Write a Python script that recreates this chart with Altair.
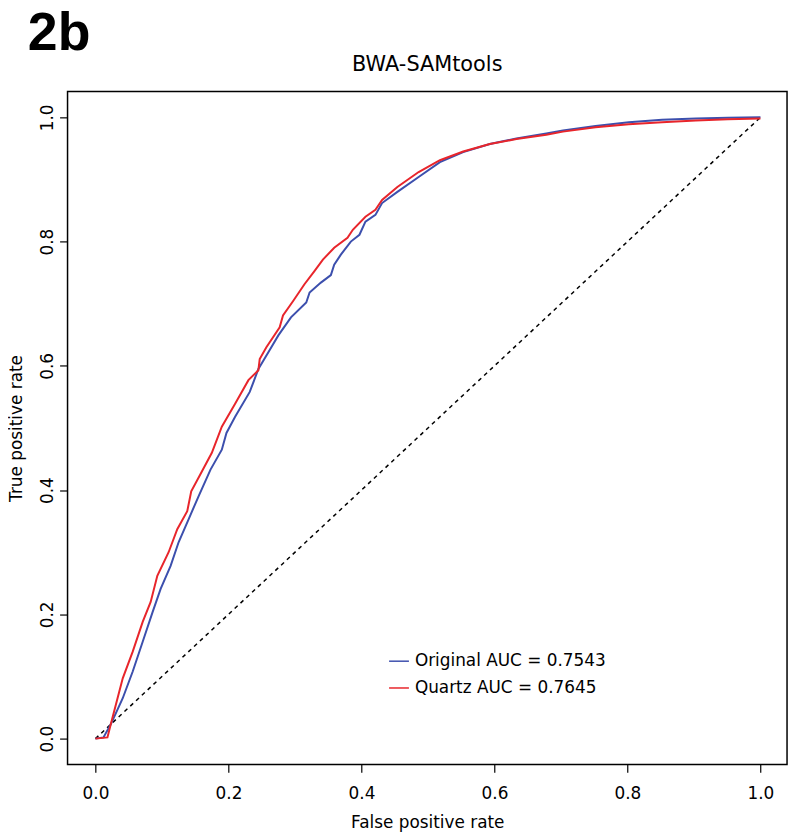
import altair as alt
import pandas as pd

# ---- data ----
orig_fpr = [0.0, 0.012, 0.023, 0.041, 0.056, 0.071, 0.086, 0.098, 0.113, 0.125, 0.140, 0.155,
            0.173, 0.190, 0.197, 0.210, 0.232, 0.245, 0.260, 0.275, 0.294, 0.317, 0.322,
            0.339, 0.354, 0.359, 0.369, 0.384, 0.397, 0.406, 0.421, 0.431, 0.454, 0.486,
            0.518, 0.553, 0.593, 0.633, 0.678, 0.703, 0.752, 0.802, 0.852, 0.903, 0.951, 1.0]
orig_tpr = [0.0, 0.002, 0.023, 0.065, 0.108, 0.156, 0.204, 0.241, 0.278, 0.316, 0.353, 0.390,
            0.433, 0.465, 0.492, 0.518, 0.558, 0.595, 0.622, 0.649, 0.678, 0.702, 0.718,
            0.734, 0.746, 0.763, 0.779, 0.800, 0.811, 0.832, 0.843, 0.862, 0.880, 0.904,
            0.928, 0.944, 0.957, 0.966, 0.974, 0.979, 0.986, 0.992, 0.996, 0.998, 0.9995, 1.0]

quartz_fpr = [0.0, 0.018, 0.023, 0.041, 0.056, 0.071, 0.083, 0.093, 0.110, 0.123, 0.138, 0.144,
              0.160, 0.175, 0.190, 0.210, 0.230, 0.245, 0.247, 0.257, 0.277, 0.282, 0.297,
              0.314, 0.329, 0.342, 0.359, 0.379, 0.387, 0.406, 0.421, 0.431, 0.454, 0.486,
              0.518, 0.553, 0.593, 0.633, 0.678, 0.703, 0.752, 0.802, 0.852, 0.903, 0.951, 1.0]
quartz_tpr = [0.0, 0.002, 0.023, 0.097, 0.140, 0.188, 0.220, 0.262, 0.300, 0.337, 0.366, 0.398,
              0.430, 0.460, 0.502, 0.539, 0.577, 0.593, 0.611, 0.630, 0.662, 0.681, 0.704,
              0.731, 0.752, 0.771, 0.790, 0.806, 0.819, 0.840, 0.851, 0.867, 0.888, 0.912,
              0.931, 0.945, 0.957, 0.965, 0.972, 0.977, 0.984, 0.989, 0.992, 0.995, 0.997, 0.998]

series_names = ["Original AUC = 0.7543", "Quartz AUC = 0.7645"]
series_colors = ["#3C4FAD", "#E8252B"]
diag = [0.0, 1.0]
ticks = [0.0, 0.2, 0.4, 0.6, 0.8, 1.0]
panel_label = "2b"
main_title = "BWA-SAMtools"

rows = []
for name, xs, ys in [(series_names[0], orig_fpr, orig_tpr), (series_names[1], quartz_fpr, quartz_tpr)]:
    for i, (a, b) in enumerate(zip(xs, ys)):
        rows.append({"series": name, "fpr": a, "tpr": b, "idx": i})
df = pd.DataFrame(rows)
diag_df = pd.DataFrame({"fpr": diag, "tpr": diag})

FONT = "DejaVu Sans"

xscale = alt.Scale(domain=[-0.042, 1.040], nice=False, zero=False)
yscale = alt.Scale(domain=[-0.0415, 1.0415], nice=False, zero=False)

xaxis = alt.Axis(values=ticks, format=".1f", title="False positive rate", grid=False, domain=False,
                 tickSize=8, tickColor="black", tickWidth=1.2, labelFontSize=17, labelFont=FONT,
                 labelColor="black", labelPadding=13, titleFontSize=17, titleFont=FONT,
                 titleFontWeight="normal", titleColor="black", titlePadding=14)
yaxis = alt.Axis(values=ticks, format=".1f", title="True positive rate", grid=False, domain=False,
                 tickSize=8, tickColor="black", tickWidth=1.2, labelFontSize=17, labelFont=FONT,
                 labelColor="black", labelAngle=270, labelAlign="center", labelBaseline="bottom",
                 labelPadding=3, titleFontSize=17, titleFont=FONT, titleFontWeight="normal",
                 titleColor="black", titlePadding=13)

lines = alt.Chart(df).mark_line(strokeWidth=2).encode(
    x=alt.X("fpr:Q", scale=xscale, axis=xaxis),
    y=alt.Y("tpr:Q", scale=yscale, axis=yaxis),
    color=alt.Color("series:N", scale=alt.Scale(domain=series_names, range=series_colors),
                    legend=alt.Legend(title=None, orient="none", legendX=323, legendY=563,
                                      symbolType="stroke", symbolSize=400, symbolStrokeWidth=1.5,
                                      labelFontSize=17, labelFont=FONT, labelColor="black",
                                      labelOffset=5, labelLimit=400, rowPadding=8, padding=0)),
    order="idx:Q",
    detail="series:N",
)

diagonal = alt.Chart(diag_df).mark_line(color="black", strokeWidth=1.5, strokeDash=[4, 4]).encode(
    x=alt.X("fpr:Q", scale=xscale),
    y=alt.Y("tpr:Q", scale=yscale),
)

label2b = alt.Chart(pd.DataFrame({"t": [panel_label]})).mark_text(
    font="Liberation Sans", fontWeight="bold", fontSize=54, align="left", baseline="alphabetic",
    color="black"
).encode(x=alt.value(-40), y=alt.value(-42), text="t:N")

title_text = alt.Chart(pd.DataFrame({"t": [main_title]})).mark_text(
    font=FONT, fontSize=21, align="center", baseline="alphabetic", color="black"
).encode(x=alt.value(362.5), y=alt.value(-21), text="t:N")

chart = alt.layer(diagonal, lines, label2b, title_text).properties(
    width=725, height=678,
    background="white",
    autosize=alt.AutoSizeParams(type="none"),
    padding={"left": 60, "top": 81, "right": 5, "bottom": 75},
).configure_view(stroke="black", strokeWidth=1.5)

chart.save("out.html", embed_options={"renderer": "svg", "actions": False})
